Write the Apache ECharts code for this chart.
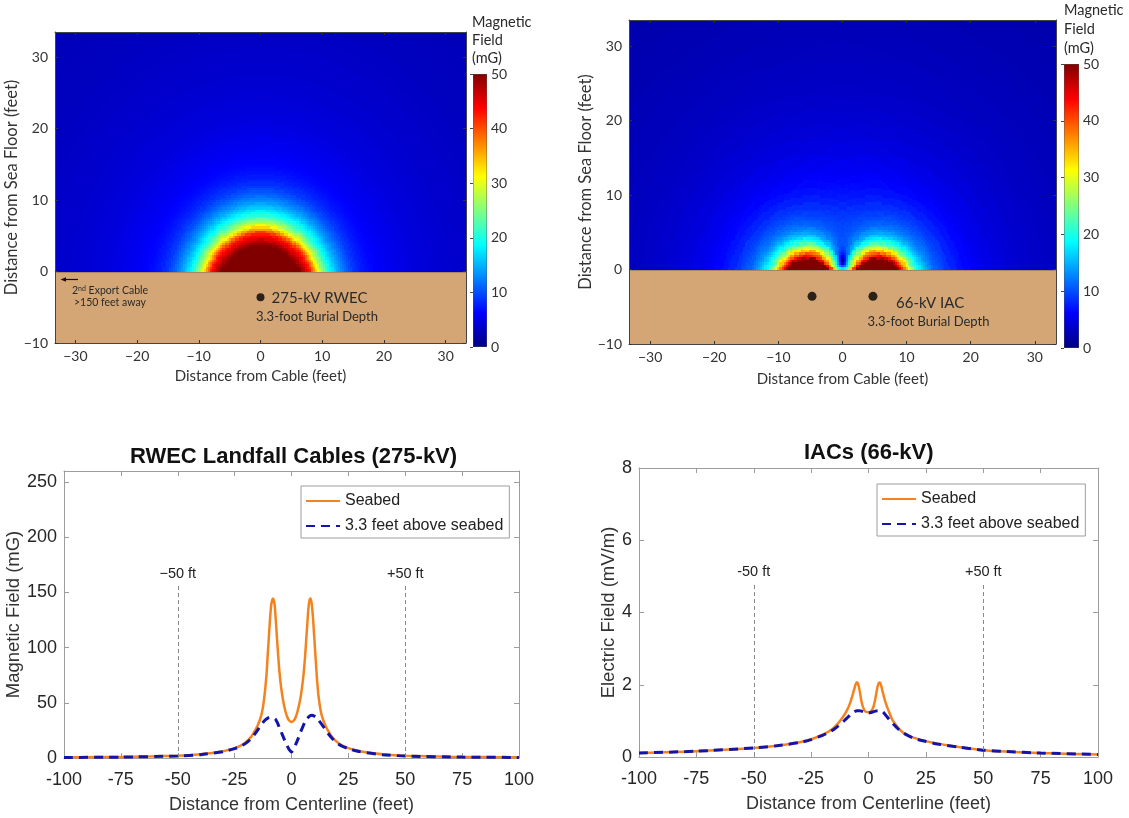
<!DOCTYPE html>
<html>
<head>
<meta charset="utf-8">
<title>RWEC / IAC field levels</title>
<script src="https://cdn.jsdelivr.net/npm/echarts@6/dist/echarts.min.js"></script>
<style>
html, body { margin: 0; padding: 0; background: #fff; }
#main { width: 1129px; height: 818px; }
</style>
</head>
<body>
<div id="main"></div>
<script>
// ---- tick labels ----
var HEAT_X_TICKS = [-30, -20, -10, 0, 10, 20, 30];
var HEAT_Y_TICKS = [-10, 0, 10, 20, 30];
var CBAR_TICKS = [0, 10, 20, 30, 40, 50];
var LINE_X_TICKS = [-100, -75, -50, -25, 0, 25, 50, 75, 100];
var RWEC_Y_TICKS = [0, 50, 100, 150, 200, 250];
var IAC_Y_TICKS = [0, 2, 4, 6, 8];

// ---- cross sections (feet) ----
var CABLES_RWEC = [[0, -3.6]];
var CABLES_IAC = [[-4.75, -3.6], [4.75, -3.6]];
var SEABED_BOX = [[-33.3, -10, 33.3, 0]];   // x0, y0, x1, y1 of the sediment
var CBAR_BOX = [[0, 0, 1, 50]];

// field of one cable vs distance from its centre (ft -> mG)
var RWEC_R = [0, 6.5, 6.75, 7, 7.25, 7.5, 7.75, 8, 8.25, 8.5, 8.75, 9, 9.25, 9.5, 9.75, 10, 10.25, 10.5, 10.75, 11, 11.25, 11.5, 11.75, 12, 12.25, 12.5, 12.75, 13, 13.25, 13.5, 13.75, 14, 14.25, 14.5, 14.75, 15, 15.5, 16, 16.5, 17, 17.5, 18, 18.5, 19, 19.5, 20, 21, 22, 23, 24, 25, 26, 27, 28, 29, 30, 32, 34, 36, 38, 40, 42, 44, 46, 48, 50, 52, 54, 56];
var RWEC_B = [60, 56, 54, 52, 50.5, 49, 47.7, 46.5, 45.2, 44, 42.6, 41, 38.6, 36, 33.2, 30.5, 28.4, 26.5, 25, 23.5, 22, 20.5, 19.3, 18.2, 17.2, 16.3, 15.4, 14.6, 13.9, 13.2, 12.6, 12, 11.4, 10.8, 10.3, 9.8, 9, 8.4, 7.8, 7.4, 7, 6.7, 6.4, 6.2, 6, 5.8, 5.5, 5.3, 5, 4.8, 4.65, 4.5, 4.4, 4.25, 4.1, 4, 3.8, 3.65, 3.5, 3.35, 3.2, 3.1, 3, 2.95, 2.9, 2.85, 2.8, 2.8, 2.75];
var IAC_R = [0, 3, 3.25, 3.5, 3.75, 4, 4.25, 4.5, 4.75, 5, 5.25, 5.5, 5.75, 6, 6.25, 6.5, 6.75, 7, 7.25, 7.5, 7.75, 8, 8.25, 8.5, 8.75, 9, 9.25, 9.5, 9.75, 10, 10.5, 11, 11.5, 12, 13, 14, 15, 16, 17, 18, 20, 22, 24, 26, 28, 30, 33, 36, 40, 45, 50, 56];
var IAC_B = [200, 130, 117, 105, 93, 82, 73, 65, 58.5, 53, 48.5, 45, 41.5, 38, 34.5, 31, 27.5, 24, 21.7, 19.5, 17.7, 16, 14.7, 13.5, 12.5, 11.5, 10.7, 10, 9.5, 9, 8.2, 7.5, 6.9, 6.4, 5.5, 4.8, 4.3, 3.9, 3.55, 3.25, 2.8, 2.45, 2.2, 2, 1.85, 1.72, 1.57, 1.45, 1.33, 1.22, 1.13, 1.05];

// ---- profiles along the seabed ----
var RWEC_X = [-100, -90, -80, -70, -60, -50, -45, -40, -35, -30, -27, -25, -23, -21, -19, -17.5, -16, -15, -14, -13, -12, -11, -10.5, -10, -9.5, -9, -8.5, -8.1, -7.5, -7, -6.5, -6, -5.5, -5, -4.5, -4, -3.5, -3, -2.5, -2, -1.5, -1, -0.5, 0, 0.5, 1, 1.5, 2, 2.5, 3, 3.5, 4, 4.5, 5, 5.5, 6, 6.5, 7, 7.5, 8, 8.3, 8.8, 9.3, 9.8, 10.3, 10.8, 11.3, 12, 13, 14, 15, 16, 17.5, 19, 21, 23, 25, 27, 30, 35, 40, 45, 50, 60, 70, 80, 90, 100];
var RWEC_SEABED = [0.6, 0.7, 0.9, 1.1, 1.5, 2.1, 2.6, 3.4, 4.5, 6.2, 7.6, 8.9, 10.6, 13, 16.5, 20, 25, 29, 34, 41, 54, 75, 92, 108, 124, 137, 143, 144.5, 140, 128, 112, 97, 83, 72, 63, 56, 50, 45, 41, 38, 35.5, 34, 33, 32.6, 33, 34, 35.5, 38, 41, 45, 49.5, 55, 62, 70, 80, 93, 108, 123, 137, 143.5, 144.5, 141, 131, 116, 100, 84, 69, 54, 41, 34, 29, 25, 20, 16.5, 13, 10.6, 8.9, 7.6, 6.2, 4.5, 3.4, 2.6, 2.1, 1.5, 1.1, 0.9, 0.7, 0.6];
var RWEC_X2 = [-100, -75, -50, -40, -30, -25, -22, -20, -18, -16, -14, -12, -10, -8.5, -7, -6, -5, -4, -3, -2, -1, 0, 1, 2, 3, 4, 5, 6, 7, 8, 9, 10, 11, 12, 14, 16, 18, 20, 22, 25, 30, 40, 50, 75, 100];
var RWEC_ABOVE = [0.5, 0.8, 1.8, 3, 5.8, 8.5, 11, 13.5, 17, 22, 28, 33.5, 36.5, 37, 35, 31, 26, 21, 16, 11.5, 7.5, 5.5, 8, 13, 18, 23.5, 28.5, 33, 36, 38, 38.7, 38, 36.5, 34, 28.5, 22.5, 17.5, 13.5, 11, 8.5, 5.8, 3, 1.8, 0.8, 0.5];

var IAC_X = [-100, -75, -50, -40, -30, -25, -20, -17, -15, -13, -11, -10, -9, -8, -7, -6, -5.5, -5, -4.5, -4, -3.5, -3, -2.5, -2, -1.5, -1, 0, 1, 1.5, 2, 2.5, 3, 3.5, 4, 4.5, 5, 5.5, 6, 7, 8, 9, 10, 11, 13, 15, 17, 20, 25, 30, 40, 50, 60, 75, 100];
var IAC_SEABED = [0.11, 0.16, 0.25, 0.31, 0.41, 0.49, 0.62, 0.72, 0.82, 0.95, 1.12, 1.22, 1.34, 1.5, 1.7, 1.93, 2.03, 2.07, 2.02, 1.88, 1.7, 1.52, 1.4, 1.32, 1.27, 1.25, 1.24, 1.26, 1.3, 1.36, 1.47, 1.62, 1.8, 1.96, 2.05, 2.06, 1.98, 1.85, 1.6, 1.4, 1.24, 1.08, 0.97, 0.8, 0.68, 0.6, 0.53, 0.44, 0.37, 0.27, 0.19, 0.15, 0.11, 0.07];
var IAC_X2 = [-100, -75, -50, -40, -30, -25, -20, -17, -15, -13, -11, -10, -9, -8, -7, -6, -5, -4, -3, -2, -1, 0, 1, 2, 3, 4, 5, 6, 7, 8, 9, 10, 11, 13, 15, 20, 25, 30, 40, 50, 60, 75, 100];
var IAC_ABOVE = [0.11, 0.16, 0.25, 0.31, 0.4, 0.48, 0.6, 0.69, 0.77, 0.87, 0.98, 1.04, 1.1, 1.16, 1.22, 1.26, 1.28, 1.28, 1.27, 1.25, 1.23, 1.22, 1.23, 1.25, 1.27, 1.28, 1.28, 1.26, 1.2, 1.12, 1.04, 0.97, 0.9, 0.77, 0.67, 0.51, 0.43, 0.36, 0.27, 0.19, 0.15, 0.11, 0.07];

var MARKER_X = [-50, 50];
var MARKER_NAMES_RWEC = ['\u221250 ft', '+50 ft'];
var MARKER_NAMES_IAC = ['-50 ft', '+50 ft'];
var MARKER_TOP_RWEC = 156;
var MARKER_TOP_IAC = 4.8;

// ---- styles ----
var JET = ['#000080', '#0000ff', '#0080ff', '#00ffff', '#80ff80', '#ffff00', '#ff8000', '#ff0000', '#800000'];
var SAND = '#d4a676';
var ORANGE = '#f2831f';
var NAVY = '#1414a8';
var HEAT_FONT = 'Lato, "Noto Sans", sans-serif';
var LINE_FONT = '"Liberation Sans", Arial, sans-serif';
var CELL = 1 / 3;

function nearest(r, radii, vals) {
	var best = 0;
	for (var i = 1; i < radii.length; i++) {
		if (Math.abs(radii[i] - r) < Math.abs(radii[best] - r)) best = i;
	}
	return vals[best];
}

// table of cells above the seabed
function buildField(valueAt) {
	var out = [];
	for (var j = 0; j < 101; j++) {
		for (var i = 0; i < 201; i++) {
			var x = -33.5 + (i + 0.5) * CELL;
			var y = (j + 0.5) * CELL;
			out.push([x, y, Math.min(valueAt(x, y), 50)]);
		}
	}
	return out;
}

var fieldRwec = buildField(function(x, y) {
	var c = CABLES_RWEC[0];
	return nearest(Math.hypot(x - c[0], y - c[1]), RWEC_R, RWEC_B);
});

// two cables: add their fields as vectors so they cancel between them
var fieldIac = buildField(function(x, y) {
	var bx = 0, by = 0;
	CABLES_IAC.forEach(function(c) {
		var r = Math.hypot(x - c[0], y - c[1]);
		var th = Math.atan2(y - c[1], x - c[0]);
		var p = nearest(r, IAC_R, IAC_B);
		bx += p * Math.cos(2 * th);
		by += p * Math.sin(2 * th);
	});
	return Math.hypot(bx, by);
});

function pairs(xs, ys) {
	return xs.map(function(x, i) { return [x, ys[i]]; });
}

function minus(v) {
	return v < 0 ? '\u2212' + Math.abs(v) : String(v);
}

// cell edges snapped to whole pixels so neighbours share them
function renderCell(params, api) {
	var x = api.value(0), y = api.value(1);
	var a = api.coord([x - CELL / 2, y + CELL / 2]);
	var b = api.coord([x + CELL / 2, y - CELL / 2]);
	var x0 = Math.round(a[0]), x1 = Math.round(b[0]);
	var y0 = Math.round(a[1]), y1 = Math.round(b[1]);
	return {
		type: 'rect',
		shape: { x: x0, y: y0, width: x1 - x0, height: y1 - y0 },
		style: { fill: api.visual('color') }
	};
}

function renderSand(params, api) {
	var a = api.coord([api.value(0), api.value(3)]);
	var b = api.coord([api.value(2), api.value(1)]);
	return {
		type: 'group',
		children: [
			{ type: 'rect', shape: { x: a[0], y: a[1], width: b[0] - a[0], height: b[1] - a[1] }, style: { fill: SAND } },
			{ type: 'line', shape: { x1: a[0], y1: a[1], x2: b[0], y2: a[1] }, style: { stroke: '#262626', lineWidth: 1.3 } }
		]
	};
}

function renderBar(params, api) {
	var a = api.coord([api.value(0), api.value(3)]);
	var b = api.coord([api.value(2), api.value(1)]);
	var stops = JET.map(function(c, i) { return { offset: i / (JET.length - 1), color: c }; });
	return {
		type: 'rect',
		shape: { x: a[0], y: a[1], width: b[0] - a[0], height: b[1] - a[1] },
		style: { fill: new echarts.graphic.LinearGradient(0, 1, 0, 0, stops), stroke: '#555', lineWidth: 0.8 }
	};
}

// axes
function heatX(grid, name, gap, pos) {
	var main = pos === 'bottom';
	return {
		type: 'value', gridIndex: grid, position: pos, min: -33.3, max: 33.3, z: 5,
		name: main ? name : '', nameLocation: 'middle', nameGap: gap,
		nameTextStyle: { fontFamily: HEAT_FONT, fontSize: 15, color: '#333' },
		axisLine: { onZero: false, lineStyle: { color: '#444', width: 1 } },
		axisTick: { inside: true, length: 3, customValues: HEAT_X_TICKS, lineStyle: { color: '#333' } },
		axisLabel: { show: main, customValues: HEAT_X_TICKS, formatter: minus, margin: 6, fontFamily: HEAT_FONT, fontSize: 14, color: '#333' },
		splitLine: { show: false }
	};
}
function heatY(grid, name, gap, pos) {
	var main = pos === 'left';
	return {
		type: 'value', gridIndex: grid, position: pos, min: -10, max: 33.5, z: 5,
		name: main ? name : '', nameLocation: 'middle', nameGap: gap,
		nameTextStyle: { fontFamily: HEAT_FONT, fontSize: 16.5, color: '#333' },
		axisLine: { onZero: false, lineStyle: { color: '#444', width: 1 } },
		axisTick: { inside: true, length: 3, customValues: HEAT_Y_TICKS, lineStyle: { color: '#333' } },
		axisLabel: { show: main, customValues: HEAT_Y_TICKS, formatter: minus, margin: 7, fontFamily: HEAT_FONT, fontSize: 14, color: '#333' },
		splitLine: { show: false }
	};
}
function barX(grid) {
	return { type: 'value', gridIndex: grid, min: 0, max: 1, show: false };
}
function barY(grid) {
	return {
		type: 'value', gridIndex: grid, position: 'right', min: 0, max: 50, z: 5,
		axisLine: { show: false },
		axisTick: { inside: true, length: 3, customValues: CBAR_TICKS, lineStyle: { color: '#444' } },
		axisLabel: { customValues: CBAR_TICKS, margin: 4, fontFamily: HEAT_FONT, fontSize: 14, color: '#333' },
		splitLine: { show: false }
	};
}
function lineX(grid, name, pos) {
	var main = pos === 'bottom';
	return {
		type: 'value', gridIndex: grid, position: pos, min: -100, max: 100, interval: 25,
		name: main ? name : '', nameLocation: 'middle', nameGap: 38,
		nameTextStyle: { fontFamily: LINE_FONT, fontSize: 18, color: '#333' },
		axisLine: { onZero: false, lineStyle: { color: '#9d9d9d', width: 1 } },
		axisTick: { inside: true, length: 5, customValues: LINE_X_TICKS, lineStyle: { color: '#9d9d9d' } },
		axisLabel: { show: main, customValues: LINE_X_TICKS, margin: 13, fontFamily: LINE_FONT, fontSize: 18, color: '#262626' },
		splitLine: { show: false }
	};
}
function lineY(grid, name, gap, max, ticks, pos) {
	var main = pos === 'left';
	return {
		type: 'value', gridIndex: grid, position: pos, min: 0, max: max,
		name: main ? name : '', nameLocation: 'middle', nameGap: gap,
		nameTextStyle: { fontFamily: LINE_FONT, fontSize: 18.5, color: '#333' },
		axisLine: { onZero: false, lineStyle: { color: '#9d9d9d', width: 1 } },
		axisTick: { inside: true, length: 5, customValues: ticks, lineStyle: { color: '#9d9d9d' } },
		axisLabel: { show: main, customValues: ticks, margin: 7, fontFamily: LINE_FONT, fontSize: 18, color: '#262626' },
		splitLine: { show: false }
	};
}

function markers(names, top) {
	return {
		silent: true, animation: false, symbol: ['none', 'none'],
		lineStyle: { color: '#8a8a8a', type: [4, 3], width: 1 },
		label: { show: true, position: 'end', distance: 4, formatter: function(p) { return p.name; }, fontFamily: LINE_FONT, fontSize: 14.5, color: '#222' },
		data: MARKER_X.map(function(x, i) { return [{ coord: [x, 0], name: names[i] }, { coord: [x, top] }]; })
	};
}

function legendAt(left, top) {
	return {
		data: ['Seabed', '3.3 feet above seabed'], orient: 'vertical', left: left, top: top,
		itemWidth: 34, itemHeight: 12, itemGap: 9, padding: [7, 6, 4, 4],
		itemStyle: { opacity: 0 },
		borderColor: '#9d9d9d', borderWidth: 1, backgroundColor: '#fff', selectedMode: false,
		textStyle: { fontFamily: LINE_FONT, fontSize: 16, color: '#222' }
	};
}

function text(x, y, str, font, extra) {
	var style = { text: str, font: font, fill: '#2a2a2a', textAlign: 'left', textVerticalAlign: 'middle' };
	for (var k in extra) style[k] = extra[k];
	return { type: 'text', x: x, y: y, z: 100, style: style };
}

function heatSeries(xi, yi, data) {
	return { type: 'custom', xAxisIndex: xi, yAxisIndex: yi, clip: true, progressive: 0, silent: true, renderItem: renderCell, data: data };
}
function boxSeries(xi, yi, render, data) {
	return { type: 'custom', xAxisIndex: xi, yAxisIndex: yi, clip: true, progressive: 0, silent: true, renderItem: render, encode: { x: [0, 2], y: [1, 3] }, data: data };
}

var option = {
	animation: false,
	backgroundColor: '#fff',
	grid: [
		{ left: 55, top: 32, width: 411, height: 311 },
		{ left: 473, top: 74, width: 14, height: 273 },
		{ left: 629, top: 20, width: 427, height: 324 },
		{ left: 1064, top: 64, width: 15, height: 284 },
		{ left: 64, top: 471, width: 455, height: 287 },
		{ left: 639, top: 468, width: 459, height: 289 }
	],
	xAxis: [
		heatX(0, 'Distance from Cable (feet)', 26, 'bottom'),
		heatX(0, '', 0, 'top'),
		barX(1),
		heatX(2, 'Distance from Cable (feet)', 28, 'bottom'),
		heatX(2, '', 0, 'top'),
		barX(3),
		lineX(4, 'Distance from Centerline (feet)', 'bottom'),
		lineX(4, '', 'top'),
		lineX(5, 'Distance from Centerline (feet)', 'bottom'),
		lineX(5, '', 'top')
	],
	yAxis: [
		heatY(0, 'Distance from Sea Floor (feet)', 29, 'left'),
		heatY(0, '', 0, 'right'),
		barY(1),
		heatY(2, 'Distance from Sea Floor (feet)', 29, 'left'),
		heatY(2, '', 0, 'right'),
		barY(3),
		lineY(4, 'Magnetic Field (mG)', 40, 260, RWEC_Y_TICKS, 'left'),
		lineY(4, '', 0, 260, RWEC_Y_TICKS, 'right'),
		lineY(5, 'Electric Field (mV/m)', 20, 8, IAC_Y_TICKS, 'left'),
		lineY(5, '', 0, 8, IAC_Y_TICKS, 'right')
	],
	visualMap: [{
		type: 'continuous', show: false, seriesIndex: [4, 5], dimension: 2,
		min: 0, max: 50, inRange: { color: JET }
	}],
	legend: [legendAt(301, 486), legendAt(877, 484)],
	series: [
		boxSeries(0, 0, renderSand, SEABED_BOX),
		boxSeries(2, 2, renderBar, CBAR_BOX),
		boxSeries(3, 3, renderSand, SEABED_BOX),
		boxSeries(5, 5, renderBar, CBAR_BOX),
		heatSeries(0, 0, fieldRwec),
		heatSeries(3, 3, fieldIac),
		{ type: 'scatter', xAxisIndex: 0, yAxisIndex: 0, data: CABLES_RWEC, symbolSize: 8, itemStyle: { color: '#000' }, z: 4, silent: true },
		{ type: 'scatter', xAxisIndex: 3, yAxisIndex: 3, data: CABLES_IAC, symbolSize: 9, itemStyle: { color: '#000' }, z: 4, silent: true },

		{ type: 'line', name: 'Seabed', xAxisIndex: 6, yAxisIndex: 6, data: pairs(RWEC_X, RWEC_SEABED), symbol: 'none', smooth: 0.3,
			lineStyle: { color: ORANGE, width: 2.5 }, itemStyle: { color: ORANGE }, z: 3, markLine: markers(MARKER_NAMES_RWEC, MARKER_TOP_RWEC) },
		{ type: 'line', name: '3.3 feet above seabed', xAxisIndex: 6, yAxisIndex: 6, data: pairs(RWEC_X2, RWEC_ABOVE), symbol: 'none', smooth: 0.2,
			lineStyle: { color: NAVY, width: 3, type: [9, 6] }, itemStyle: { color: NAVY }, z: 4 },
		{ type: 'line', name: 'Seabed', xAxisIndex: 8, yAxisIndex: 8, data: pairs(IAC_X, IAC_SEABED), symbol: 'none', smooth: 0.3,
			lineStyle: { color: ORANGE, width: 2.5 }, itemStyle: { color: ORANGE }, z: 3, markLine: markers(MARKER_NAMES_IAC, MARKER_TOP_IAC) },
		{ type: 'line', name: '3.3 feet above seabed', xAxisIndex: 8, yAxisIndex: 8, data: pairs(IAC_X2, IAC_ABOVE), symbol: 'none', smooth: 0.2,
			lineStyle: { color: NAVY, width: 3, type: [9, 6] }, itemStyle: { color: NAVY }, z: 4 }
	],
	graphic: [
		text(472, 13, 'Magnetic\nField\n(mG)', '14.5px ' + HEAT_FONT, { textVerticalAlign: 'top', lineHeight: 18 }),
		text(1064, 1, 'Magnetic\nField\n(mG)', '14.5px ' + HEAT_FONT, { textVerticalAlign: 'top', lineHeight: 19 }),
		text(271.5, 298.3, '275-kV RWEC', '15px ' + HEAT_FONT),
		text(256, 317.3, '3.3-foot Burial Depth', '13px ' + HEAT_FONT),
		text(72, 291, '2{s|nd} Export Cable', '10.5px ' + HEAT_FONT, { rich: { s: { fontSize: 7, verticalAlign: 'top', fontFamily: HEAT_FONT } } }),
		text(74, 302.3, '>150 feet away', '10.5px ' + HEAT_FONT),
		{ type: 'line', z: 100, shape: { x1: 78, y1: 279.5, x2: 64, y2: 279.5 }, style: { stroke: '#111', lineWidth: 1.2 } },
		{ type: 'polygon', z: 100, shape: { points: [[60.5, 279.5], [66, 277.3], [66, 281.7]] }, style: { fill: '#111' } },
		text(896, 303.3, '66-kV IAC', '15px ' + HEAT_FONT),
		text(867.5, 321.7, '3.3-foot Burial Depth', '13px ' + HEAT_FONT),
		text(293.5, 456.7, 'RWEC Landfall Cables (275-kV)', 'bold 22px ' + LINE_FONT, { textAlign: 'center', fill: '#111' }),
		text(868.7, 453.3, 'IACs (66-kV)', 'bold 22px ' + LINE_FONT, { textAlign: 'center', fill: '#111' })
	]
};

var chart = echarts.init(document.getElementById('main'));
chart.setOption(option);
</script>
</body>
</html>
